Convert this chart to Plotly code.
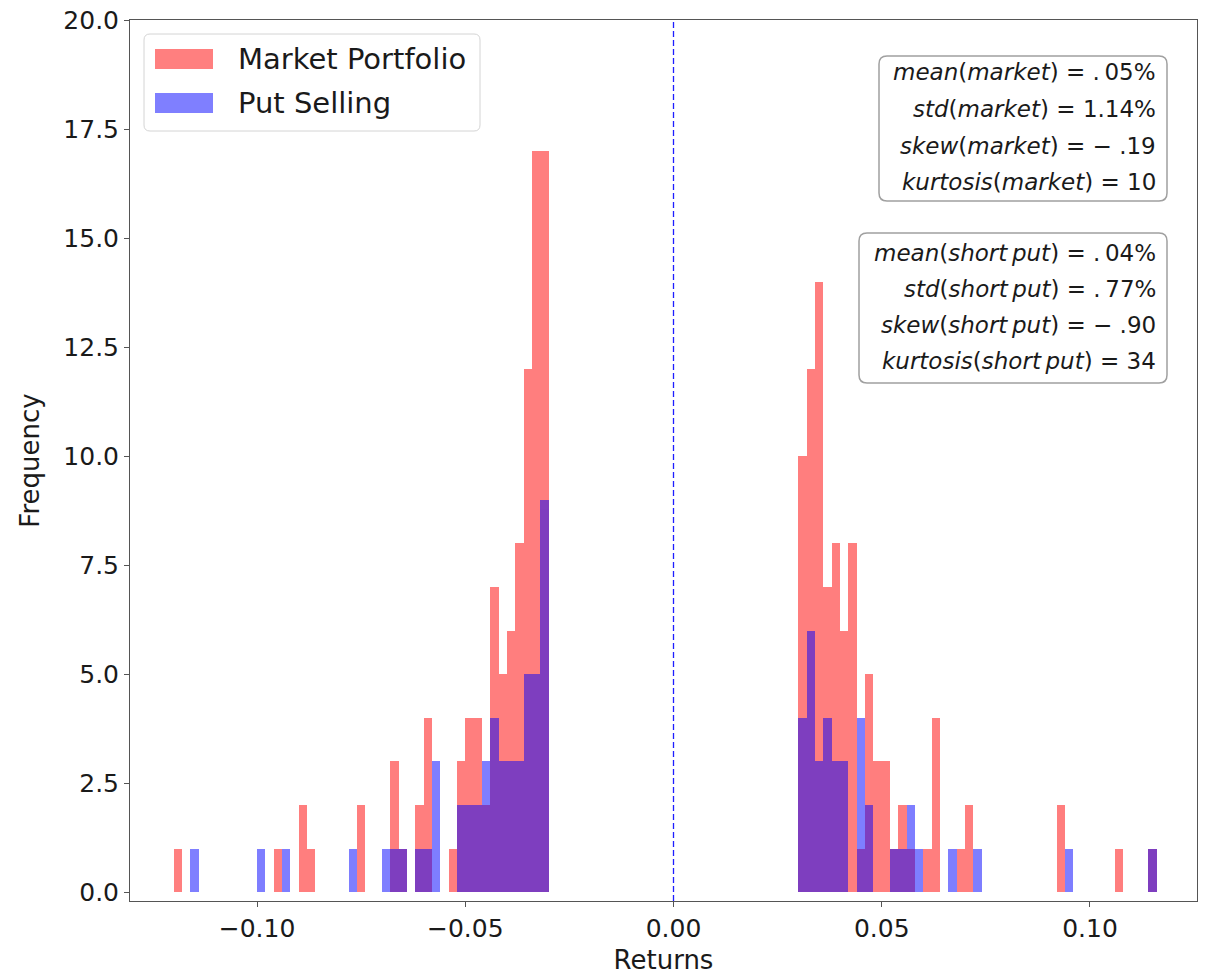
import plotly.graph_objects as go

# Histogram of tail returns (|r| > 3%), bins of width 0.002
BIN_WIDTH = 0.002

market_centers = [
    -0.119, -0.095, -0.089, -0.087, -0.075, -0.067, -0.065, -0.061, -0.059,
    -0.053, -0.051, -0.049, -0.047, -0.045, -0.043, -0.041, -0.039, -0.037,
    -0.035, -0.033, -0.031,
    0.031, 0.033, 0.035, 0.037, 0.039, 0.041, 0.043, 0.045, 0.047, 0.049,
    0.051, 0.053, 0.055, 0.057, 0.061, 0.063, 0.069, 0.071, 0.093, 0.107,
    0.115,
]
market_counts = [
    1, 1, 2, 1, 2, 3, 1, 2, 4,
    1, 3, 4, 4, 2, 7, 5, 6, 8,
    12, 17, 17,
    10, 12, 14, 7, 8, 6, 8, 1, 5, 3,
    3, 1, 2, 1, 1, 4, 1, 2, 2, 1,
    1,
]

put_centers = [
    -0.115, -0.099, -0.093, -0.077, -0.069, -0.067, -0.065, -0.061, -0.059,
    -0.057, -0.051, -0.049, -0.047, -0.045, -0.043, -0.041, -0.039, -0.037,
    -0.035, -0.033, -0.031,
    0.031, 0.033, 0.035, 0.037, 0.039, 0.041, 0.045, 0.047, 0.053, 0.055,
    0.057, 0.059, 0.067, 0.073, 0.095, 0.115,
]
put_counts = [
    1, 1, 1, 1, 1, 1, 1, 1, 1,
    3, 2, 2, 2, 3, 4, 3, 3, 3,
    5, 5, 9,
    4, 6, 3, 4, 3, 3, 4, 2, 1, 1,
    2, 1, 1, 1, 1, 1,
]

series_names = ["Market Portfolio", "Put Selling"]
series_colors = ["rgb(255,0,0)", "rgb(0,0,255)"]

x_ticks = [-0.10, -0.05, 0.00, 0.05, 0.10]
y_ticks = [0.0, 2.5, 5.0, 7.5, 10.0, 12.5, 15.0, 17.5, 20.0]

market_stats = [
    "<i>mean</i>(<i>market</i>) = .\u200905%",
    "<i>std</i>(<i>market</i>) = 1.14%",
    "<i>skew</i>(<i>market</i>) = \u2212 .19",
    "<i>kurtosis</i>(<i>market</i>) = 10",
]
put_stats = [
    "<i>mean</i>(<i>short\u2009put</i>) = .\u200904%",
    "<i>std</i>(<i>short\u2009put</i>) = .\u200977%",
    "<i>skew</i>(<i>short\u2009put</i>) = \u2212 .90",
    "<i>kurtosis</i>(<i>short\u2009put</i>) = 34",
]

# ---- figure geometry (pixels) ----
W, H = 1211, 976
ML, MR, MT, MB = 130, 14, 20, 75
PW, PH = W - ML - MR, H - MT - MB
FONT = "DejaVu Sans"
TXT = "#1a1a1a"
AXC = "#555555"


def px(x):
    return (x - ML) / PW


def py(y):
    return (H - MB - y) / PH


def rounded_box(x0, y0, x1, y1, r):
    rx, ry = r / PW, r / PH
    a, b, c, d = px(x0), py(y0), px(x1), py(y1)
    return (
        f"M {a + rx},{b} L {c - rx},{b} Q {c},{b} {c},{b - ry} "
        f"L {c},{d + ry} Q {c},{d} {c - rx},{d} "
        f"L {a + rx},{d} Q {a},{d} {a},{d + ry} "
        f"L {a},{b - ry} Q {a},{b} {a + rx},{b} Z"
    )


fig = go.Figure()
for name, xs, ys, col in [
    (series_names[0], market_centers, market_counts, series_colors[0]),
    (series_names[1], put_centers, put_counts, series_colors[1]),
]:
    fig.add_trace(go.Bar(
        x=xs, y=ys, width=BIN_WIDTH, name=name,
        marker=dict(color=col, line=dict(width=0)),
        opacity=0.5, showlegend=False,
    ))

shapes = []
annotations = []

# vertical reference line at zero return
shapes.append(dict(type="line", xref="x", yref="paper", x0=0, x1=0, y0=0, y1=1,
                   line=dict(color="rgb(30,30,255)", width=1.3, dash="6px,3px"),
                   layer="above"))

# legend box with large colour patches
shapes.append(dict(type="path", xref="paper", yref="paper",
                   path=rounded_box(144, 34, 480, 131, 6),
                   line=dict(color="#d4d4d4", width=1),
                   fillcolor="rgba(255,255,255,0.8)", layer="above"))
for i, (name, col) in enumerate(zip(series_names, series_colors)):
    yc = 59 + i * 44
    shapes.append(dict(type="rect", xref="paper", yref="paper",
                       x0=px(155), x1=px(213), y0=py(yc - 10), y1=py(yc + 10),
                       fillcolor=col, opacity=0.5, line=dict(width=0), layer="above"))
    annotations.append(dict(xref="paper", yref="paper", x=px(236), y=py(yc),
                            xanchor="left", yanchor="middle", showarrow=False,
                            text=name, font=dict(family=FONT, size=29, color=TXT)))

# statistics boxes
boxes = [
    (market_stats, (879, 56, 1167, 201), [72, 109, 146, 182]),
    (put_stats, (859, 233, 1167, 383), [253, 289, 325, 361]),
]
for lines, (bx0, by0, bx1, by1), ys in boxes:
    shapes.append(dict(type="path", xref="paper", yref="paper",
                       path=rounded_box(bx0, by0, bx1, by1, 8),
                       line=dict(color="#a0a0a0", width=1.5),
                       fillcolor="rgba(255,255,255,0.85)", layer="above"))
    for text, yc in zip(lines, ys):
        annotations.append(dict(xref="paper", yref="paper", x=px(1158), y=py(yc),
                                xanchor="right", yanchor="middle", showarrow=False,
                                text=text, font=dict(family=FONT, size=23, color=TXT)))

fig.update_layout(
    width=W, height=H,
    margin=dict(l=ML, r=MR, t=MT, b=MB, autoexpand=False),
    barmode="overlay", bargap=0,
    plot_bgcolor="white", paper_bgcolor="white",
    font=dict(family=FONT, size=24, color=TXT),
    shapes=shapes, annotations=annotations,
    showlegend=False,
)
fig.update_xaxes(
    range=[-0.1305, 0.1257], tickvals=x_ticks, tickformat=".2f",
    ticks="outside", ticklen=5, tickwidth=1, tickcolor=AXC,
    showline=True, linecolor=AXC, linewidth=1, mirror=True,
    showgrid=False, zeroline=False,
    tickfont=dict(family=FONT, size=25, color=TXT),
    title=dict(text="Returns", font=dict(family=FONT, size=26, color=TXT), standoff=8),
    automargin=False,
)
fig.update_yaxes(
    range=[-0.2, 20], tickvals=y_ticks, tickformat=".1f",
    ticks="outside", ticklen=5, tickwidth=1, tickcolor=AXC,
    showline=True, linecolor=AXC, linewidth=1, mirror=True,
    showgrid=False, zeroline=False,
    tickfont=dict(family=FONT, size=25, color=TXT),
    title=dict(text="Frequency", font=dict(family=FONT, size=26, color=TXT), standoff=16),
    automargin=False,
)

fig.write_html("out.html")
